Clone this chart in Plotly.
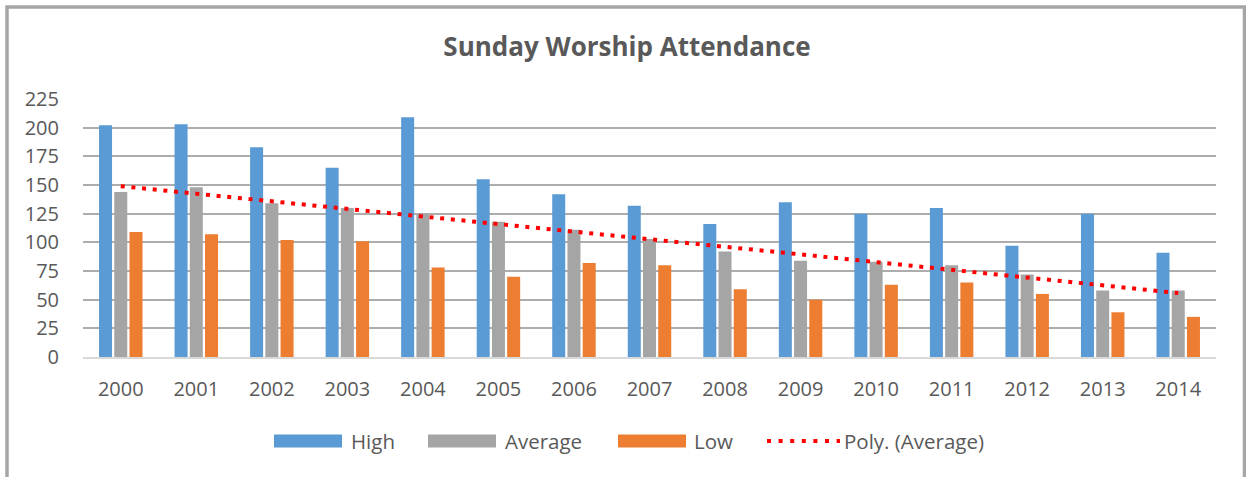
import numpy as np
import plotly.graph_objects as go

years = ["2000", "2001", "2002", "2003", "2004", "2005", "2006", "2007",
         "2008", "2009", "2010", "2011", "2012", "2013", "2014"]
high = [202, 203, 183, 165, 209, 155, 142, 132, 116, 135, 125, 130, 97, 125, 91]
average = [144, 148, 134, 130, 125, 118, 111, 103, 92, 84, 83, 80, 72, 58, 58]
low = [109, 107, 102, 101, 78, 70, 82, 80, 59, 50, 63, 65, 55, 39, 35]
y_ticks = [0, 25, 50, 75, 100, 125, 150, 175, 200, 225]

# polynomial (order 2) trendline of Average, as in the spreadsheet
xi = np.arange(1, len(years) + 1)
coef = np.polyfit(xi, average, 2)
trend = np.polyval(coef, xi)

W, H = 1246, 477
ML, MR, MT, MB = 83, 30, 99, 120
PW, PH = W - ML - MR, H - MT - MB


def px(p):
    return (p - ML) / PW


def py(p):
    return (H - MB - p) / PH


BLUE, GRAY, ORANGE, RED = "#5B9BD5", "#A5A5A5", "#ED7D31", "#FF0000"
TXT = "#595959"
FONT = "Open Sans"

fig = go.Figure()
fig.add_trace(go.Bar(name="High", x=years, y=high, marker=dict(color=BLUE, line=dict(width=0))))
fig.add_trace(go.Bar(name="Average", x=years, y=average, marker=dict(color=GRAY, line=dict(width=0))))
fig.add_trace(go.Bar(name="Low", x=years, y=low, marker=dict(color=ORANGE, line=dict(width=0))))
fig.add_trace(go.Scatter(name="Poly. (Average)", x=years, y=trend, mode="lines",
                         line=dict(color=RED, width=4, dash="4px,6.7px")))

shapes = []
annotations = []
# outer chart frame
shapes.append(dict(type="rect", xref="paper", yref="paper",
                   x0=px(7), x1=px(1244.5), y0=py(7), y1=py(495),
                   line=dict(color="#A6A6A6", width=3.5), fillcolor="rgba(0,0,0,0)"))

# legend (drawn manually to match wide swatches)
leg_y = 441
items = [
    ("rect", BLUE, 274, 342, "High", 349),
    ("rect", GRAY, 428, 496, "Average", 503),
    ("rect", ORANGE, 618, 686, "Low", 692),
    ("dot", RED, 767, 840, "Poly. (Average)", 842),
]
for kind, col, x0, x1, label, tx in items:
    if kind == "rect":
        shapes.append(dict(type="rect", xref="paper", yref="paper",
                           x0=px(x0), x1=px(x1), y0=py(leg_y + 6.5), y1=py(leg_y - 6.5),
                           line=dict(width=0), fillcolor=col))
    else:
        shapes.append(dict(type="line", xref="paper", yref="paper",
                           x0=px(x0), x1=px(x1), y0=py(leg_y), y1=py(leg_y),
                           line=dict(color=col, width=4, dash="4px,7.6px")))
    annotations.append(dict(text=label, xref="paper", yref="paper", x=px(tx), y=py(leg_y),
                            xanchor="left", yanchor="middle", showarrow=False,
                            font=dict(family=FONT, size=20.5, color=TXT)))

fig.update_layout(
    width=W, height=H,
    margin=dict(l=ML, r=MR, t=MT, b=MB, pad=0),
    paper_bgcolor="white", plot_bgcolor="white",
    barmode="group", bargap=0.395, bargroupgap=0.146,
    showlegend=False,
    title=dict(text="<b>Sunday Worship Attendance</b>", x=627 / W, xref="container", xanchor="center",
               y=1 - 47 / H, yanchor="middle", yref="container",
               font=dict(family=FONT, size=26, color=TXT)),
    font=dict(family=FONT, size=20, color=TXT),
    shapes=shapes, annotations=annotations,
)
fig.update_xaxes(type="category", showgrid=False, showline=True, linecolor="#D9D9D9", linewidth=2,
                 ticks="", ticklabelstandoff=13, tickfont=dict(family=FONT, size=20, color=TXT))
fig.update_yaxes(range=[0, 225], tickvals=y_ticks, showgrid=True, gridcolor="#ADADAD", gridwidth=1.5,
                 zeroline=False, showline=False, ticks="", ticklabelstandoff=23,
                 tickfont=dict(family=FONT, size=20, color=TXT))

fig.write_html("out.html", config={"displayModeBar": False},
               post_script="document.body.style.margin='0';document.body.style.padding='0';")
